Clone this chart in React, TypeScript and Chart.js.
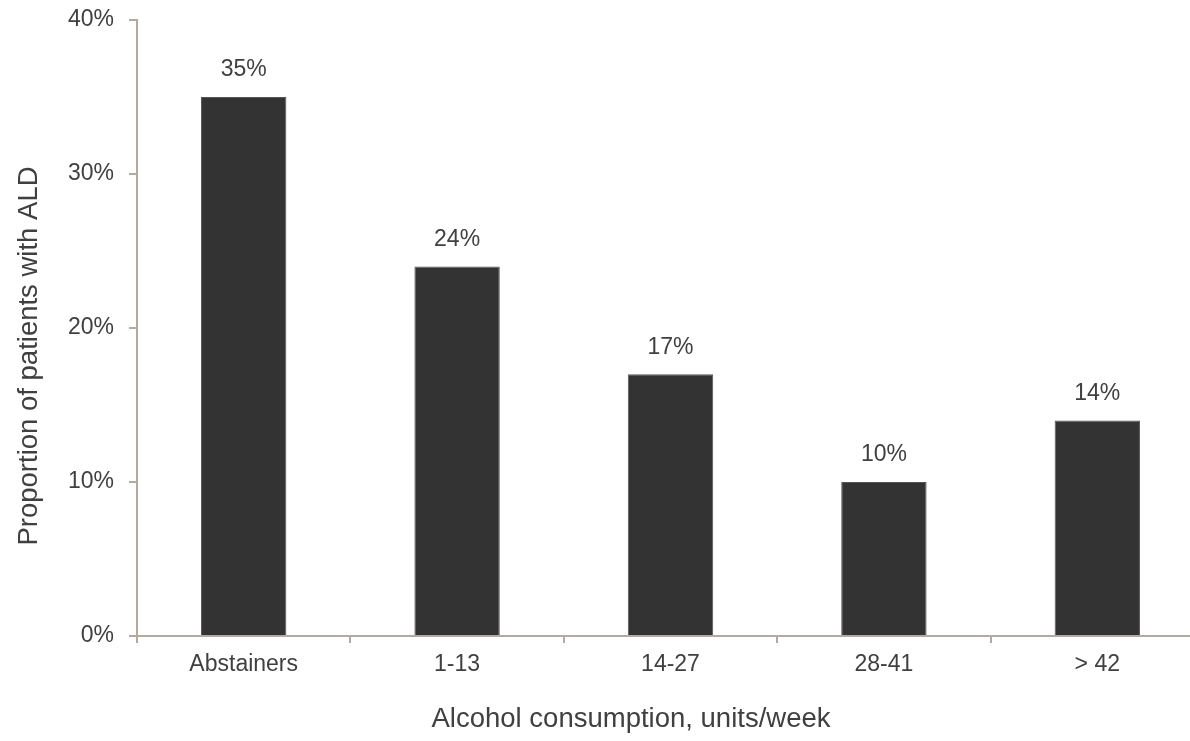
import React, { useEffect, useRef } from "react";
import { Chart, registerables } from "chart.js";

Chart.register(...registerables);

const categories = ["Abstainers", "1-13", "14-27", "28-41", "> 42"];
const proportions = [35, 24, 17, 10, 14];
const yTicks = [0, 10, 20, 30, 40];
const xTitle = "Alcohol consumption, units/week";
const yTitle = "Proportion of patients with ALD";

const FONT = "'Liberation Sans', Arial, sans-serif";
const TEXT = "#404040";
const AXIS = "#b3aba0";

const labelPlugin = {
  id: "customLabels",
  afterDatasetsDraw(chart: any) {
    const ctx = chart.ctx;
    const meta = chart.getDatasetMeta(0);
    ctx.save();
    ctx.fillStyle = TEXT;
    ctx.font = `23px ${FONT}`;
    ctx.textAlign = "center";
    ctx.textBaseline = "middle";
    meta.data.forEach((el: any, i: number) => {
      ctx.fillText(`${proportions[i]}%`, el.x, el.y - 27);
    });
    ctx.font = `27.5px ${FONT}`;
    ctx.fillText(xTitle, 631, 719);
    ctx.translate(29, 356);
    ctx.rotate(-Math.PI / 2);
    ctx.fillText(yTitle, 0, 0);
    ctx.restore();
  },
};

export default function App() {
  const ref = useRef<HTMLCanvasElement>(null);
  useEffect(() => {
    if (!ref.current) return;
    const chart = new Chart(ref.current, {
      type: "bar",
      data: {
        labels: categories,
        datasets: [
          {
            data: proportions,
            backgroundColor: "#333333",
            borderColor: "#555555",
            borderWidth: 1,
            barPercentage: 0.4,
            categoryPercentage: 1,
          },
        ],
      },
      options: {
        animation: false,
        responsive: true,
        maintainAspectRatio: false,
        layout: { padding: { top: 20, left: 0, right: 0, bottom: 0 } },
        plugins: { legend: { display: false }, tooltip: { enabled: false } },
        scales: {
          x: {
            afterFit: (s: any) => {
              s.height = 105;
              s.paddingLeft = 0;
              s.paddingRight = 0;
            },
            border: { color: AXIS, width: 2 },
            grid: {
              offset: true,
              drawOnChartArea: false,
              drawTicks: true,
              tickLength: 7,
              color: AXIS,
              lineWidth: 2,
            },
            ticks: {
              color: TEXT,
              font: { family: FONT, size: 23 },
              padding: 8,
            },
          },
          y: {
            min: 0,
            max: 40,
            afterFit: (s: any) => {
              s.width = 137;
              s.paddingTop = 0;
              s.paddingBottom = 0;
            },
            afterBuildTicks: (s: any) => {
              s.ticks = yTicks.map((v) => ({ value: v }));
            },
            border: { color: AXIS, width: 2 },
            grid: {
              drawOnChartArea: false,
              drawTicks: true,
              tickLength: 8,
              color: AXIS,
              lineWidth: 2,
            },
            ticks: {
              color: TEXT,
              font: { family: FONT, size: 23 },
              padding: 15,
              callback: (v: any) => `${v}%`,
            },
          },
        },
      },
      plugins: [labelPlugin],
    });
    return () => chart.destroy();
  }, []);
  return (
    <div
      style={{
        position: "fixed",
        left: 0,
        top: 0,
        width: 1190,
        height: 741,
        overflow: "hidden",
        background: "#fff",
      }}
    >
      <div style={{ width: 1204, height: 741, position: "relative" }}>
        <canvas ref={ref} />
      </div>
    </div>
  );
}
